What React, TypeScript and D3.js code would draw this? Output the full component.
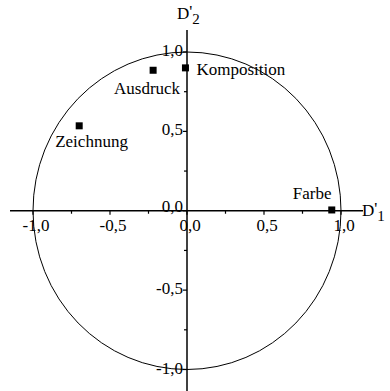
import React from "react";
import * as d3 from "d3";

const labels = ["Komposition", "Ausdruck", "Zeichnung", "Farbe"];
const d1Values = [-0.01, -0.22, -0.7, 0.94];
const d2Values = [0.9, 0.885, 0.535, 0.005];
const majorTicks = [-1, -0.5, 0, 0.5, 1];
const minorTicks = [-0.75, -0.25, 0.25, 0.75];

const W = 390;
const H = 391;
const FONT = '"Liberation Serif", "Times New Roman", Times, serif';

// label placement relative to each marker: [dx, dy, anchor]
const labelPos: [number, number, string][] = [
  [11, 7, "start"],
  [27, 24, "end"],
  [-24, 21, "start"],
  [-39, -11, "start"],
];

const fmt = (v: number) => d3.format(".1f")(v).replace(".", ",").replace("−", "-");

export default function App() {
  const x = d3.scaleLinear().domain([-1, 1]).range([33, 341]);
  const y = d3.scaleLinear().domain([-1, 1]).range([369.5, 52]);
  const cx = x(0);
  const cy = y(0);
  const rx = x(1) - x(0);
  const ry = y(0) - y(1);

  return (
    <svg
      width={W}
      height={H}
      style={{ position: "absolute", left: 0, top: 0, background: "#fff", fontFamily: FONT, fontSize: 17 }}
    >
      <rect width={W} height={H} fill="#fff" />
      {/* unit circle */}
      <ellipse cx={cx} cy={cy} rx={rx} ry={ry} fill="none" stroke="#000" strokeWidth={1} />

      {/* axes */}
      <line x1={10} x2={363} y1={cy} y2={cy} stroke="#000" strokeWidth={1.5} />
      <line x1={cx} x2={cx} y1={30} y2={H} stroke="#000" strokeWidth={1.5} />

      {/* x ticks */}
      {majorTicks.map((t) => (
        <line key={"xt" + t} x1={x(t)} x2={x(t)} y1={cy} y2={cy + 4} stroke="#000" strokeWidth={1.2} />
      ))}
      {minorTicks.map((t) => (
        <line key={"xm" + t} x1={x(t)} x2={x(t)} y1={cy} y2={cy + 3} stroke="#000" strokeWidth={1.2} />
      ))}
      {majorTicks.map((t) => (
        <text key={"xl" + t} x={x(t) + 3} y={cy + 20} textAnchor="middle">
          {fmt(t)}
        </text>
      ))}

      {/* y ticks */}
      {majorTicks.map((t) => (
        <line key={"yt" + t} x1={cx - 4} x2={cx} y1={y(t)} y2={y(t)} stroke="#000" strokeWidth={1.2} />
      ))}
      {minorTicks.map((t) => (
        <line key={"ym" + t} x1={cx - 3} x2={cx} y1={y(t)} y2={y(t)} stroke="#000" strokeWidth={1.2} />
      ))}
      {majorTicks.map((t) => (
        <text key={"yl" + t} x={cx - 4} y={y(t) + (t === 0 ? 1 : 4)} textAnchor="end">
          {fmt(t)}
        </text>
      ))}

      {/* axis titles */}
      <text x={177} y={19}>
        D<tspan dy={-2}>'</tspan>
        <tspan dx={0} dy={7} fontSize={15}>2</tspan>
      </text>
      <text x={362} y={216}>
        D<tspan dy={-2}>'</tspan>
        <tspan dx={0} dy={7} fontSize={15}>1</tspan>
      </text>

      {/* loadings */}
      {labels.map((name, i) => {
        const px = x(d1Values[i]);
        const py = y(d2Values[i]);
        const [dx, dy, anchor] = labelPos[i];
        return (
          <g key={name}>
            <rect x={px - 3.5} y={py - 3.5} width={7} height={7} fill="#000" />
            <text x={px + dx} y={py + dy} textAnchor={anchor as any}>
              {name}
            </text>
          </g>
        );
      })}
    </svg>
  );
}
